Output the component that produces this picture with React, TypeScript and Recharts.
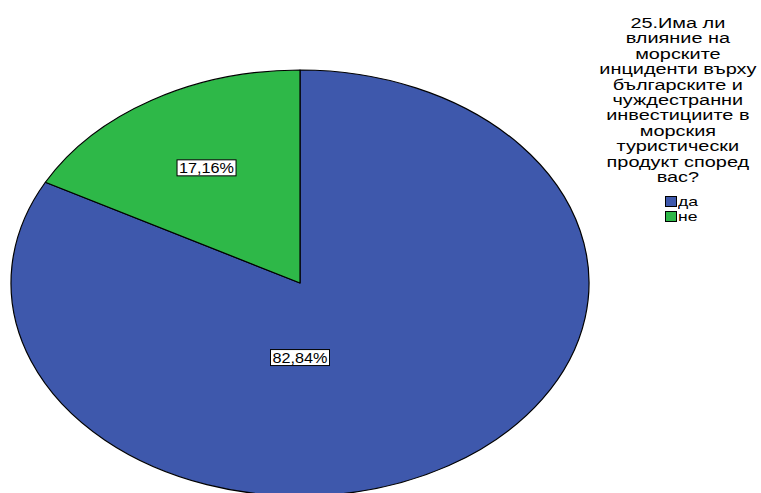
import React from 'react';
import { PieChart, Pie, Cell, Legend } from 'recharts';

const categories = ['да', 'не'];
const percents = [82.84, 17.16];
const colors = ['#3E58AC', '#2EB848'];
const titleLines = [
  '25.Има ли',
  'влияние на',
  'морските',
  'инциденти върху',
  'българските и',
  'чуждестранни',
  'инвестициите в',
  'морския',
  'туристически',
  'продукт според',
  'вас?',
];

const data = categories.map((name, i) => ({ name, value: percents[i] }));

const Y_RATIO = 213 / 289;
const RAD = Math.PI / 180;
const FONT = '"Liberation Sans", Arial, sans-serif';

const EllipseSector = (props: any) => {
  const { cx, cy, outerRadius, startAngle, endAngle, fill } = props;
  const rx = outerRadius;
  const ry = outerRadius * Y_RATIO;
  const pt = (a: number) => [cx + rx * Math.cos(a * RAD), cy - ry * Math.sin(a * RAD)];
  const [x1, y1] = pt(startAngle);
  const [x2, y2] = pt(endAngle);
  const delta = endAngle - startAngle;
  const large = Math.abs(delta) > 180 ? 1 : 0;
  const sweep = delta < 0 ? 1 : 0;
  const d = `M${cx},${cy} L${x1},${y1} A${rx},${ry} 0 ${large} ${sweep} ${x2},${y2} Z`;
  return <path d={d} fill={fill} stroke="#000" strokeWidth={1.2} strokeLinejoin="round" />;
};

const renderLabel = (props: any) => {
  const { cx, cy, midAngle, outerRadius, percent, value } = props;
  const big = percent > 0.5;
  const ang = big ? -90 : midAngle;
  const frac = big ? 0.35 : 0.63;
  const x = cx + outerRadius * frac * Math.cos(ang * RAD);
  const y = cy - outerRadius * Y_RATIO * frac * Math.sin(ang * RAD);
  const txt = Number(value).toFixed(2).replace('.', ',') + '%';
  const w = 59;
  const h = 16;
  return (
    <g>
      <rect x={x - w / 2} y={y - h / 2} width={w} height={h} fill="#fff" stroke="#000" strokeWidth={1} />
      <text
        x={x}
        y={y + 5}
        textAnchor="middle"
        fontFamily={FONT}
        fontSize={14}
        fill="#000"
        textLength={w - 4}
        lengthAdjust="spacingAndGlyphs"
      >
        {txt}
      </text>
    </g>
  );
};

const renderLegend = (props: any) => {
  const payload = props && props.payload && props.payload.length
    ? props.payload
    : categories.map((c, i) => ({ value: c, color: colors[i] }));
  return (
    <div style={{ fontFamily: FONT, fontSize: 14, color: '#000', width: 171 }}>
      <div style={{ transform: 'scaleX(1.42)', transformOrigin: '87px 0', textAlign: 'center' }}>
        {titleLines.map((l) => (
          <div key={l} style={{ lineHeight: '15.4px', whiteSpace: 'nowrap' }}>{l}</div>
        ))}
      </div>
      <div style={{ marginTop: 9, marginLeft: 72 }}>
        {payload.map((p: any, i: number) => (
          <div key={i} style={{ display: 'flex', alignItems: 'center', height: 15 }}>
            <span
              style={{
                display: 'inline-block',
                width: 12,
                height: 11,
                background: p.color || colors[i],
                border: '1px solid #000',
                boxSizing: 'border-box',
              }}
            />
            <span style={{ display: 'inline-block', transform: 'scaleX(1.35)', transformOrigin: '0 50%', marginLeft: 1, fontSize: 13 }}>
              {p.value}
            </span>
          </div>
        ))}
      </div>
    </div>
  );
};

export default function App() {
  return (
    <div style={{ position: 'absolute', left: 0, top: 0, width: 761, height: 493, background: '#fff' }}>
      <PieChart width={761} height={493} margin={{ top: 0, right: 0, bottom: 0, left: 0 }}>
        <Pie
          data={data}
          dataKey="value"
          nameKey="name"
          cx={300}
          cy={283}
          outerRadius={289}
          startAngle={90}
          endAngle={-270}
          stroke="#000"
          shape={EllipseSector}
          inactiveShape={EllipseSector}
          activeShape={EllipseSector}
          label={renderLabel}
          labelLine={false}
          isAnimationActive={false}
        >
          {data.map((d, i) => (
            <Cell key={d.name} fill={colors[i]} />
          ))}
        </Pie>
        <Legend
          layout="vertical"
          align="right"
          verticalAlign="top"
          content={renderLegend}
          wrapperStyle={{ left: 593, top: 16, width: 171 }}
        />
      </PieChart>
    </div>
  );
}
